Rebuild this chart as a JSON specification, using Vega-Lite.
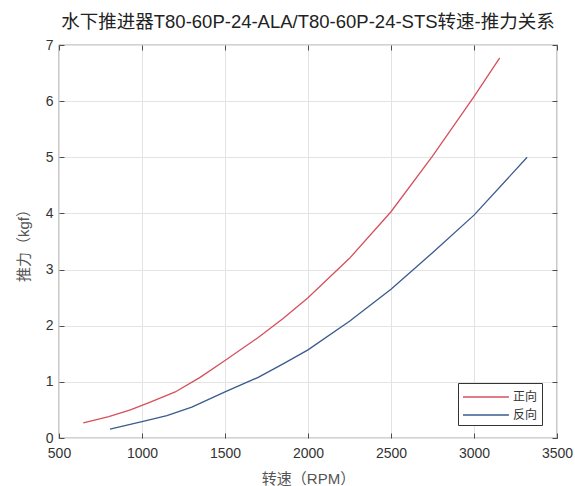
{
  "$schema": "https://vega.github.io/schema/vega-lite/v6.json",
  "autosize": {"type": "none"},
  "padding": {"left": 59, "top": 45, "right": 18, "bottom": 48},
  "width": 498,
  "height": 393,
  "background": "white",
  "title": {
    "text": "水下推进器T80-60P-24-ALA/T80-60P-24-STS转速-推力关系",
    "font": "Liberation Sans, Noto Sans CJK SC",
    "fontSize": 18.5,
    "fontWeight": "normal",
    "color": "#222222",
    "offset": 7,
    "anchor": "middle"
  },
  "data": {
    "values": [
      {"rpm": 646, "thrust": 0.27, "dir": "正向"},
      {"rpm": 800, "thrust": 0.38, "dir": "正向"},
      {"rpm": 930, "thrust": 0.5, "dir": "正向"},
      {"rpm": 1050, "thrust": 0.64, "dir": "正向"},
      {"rpm": 1200, "thrust": 0.82, "dir": "正向"},
      {"rpm": 1350, "thrust": 1.08, "dir": "正向"},
      {"rpm": 1500, "thrust": 1.38, "dir": "正向"},
      {"rpm": 1700, "thrust": 1.79, "dir": "正向"},
      {"rpm": 1850, "thrust": 2.13, "dir": "正向"},
      {"rpm": 2000, "thrust": 2.5, "dir": "正向"},
      {"rpm": 2250, "thrust": 3.2, "dir": "正向"},
      {"rpm": 2500, "thrust": 4.03, "dir": "正向"},
      {"rpm": 2750, "thrust": 5.02, "dir": "正向"},
      {"rpm": 3000, "thrust": 6.08, "dir": "正向"},
      {"rpm": 3155, "thrust": 6.77, "dir": "正向"},
      {"rpm": 807, "thrust": 0.16, "dir": "反向"},
      {"rpm": 1000, "thrust": 0.29, "dir": "反向"},
      {"rpm": 1150, "thrust": 0.4, "dir": "反向"},
      {"rpm": 1300, "thrust": 0.55, "dir": "反向"},
      {"rpm": 1500, "thrust": 0.82, "dir": "反向"},
      {"rpm": 1700, "thrust": 1.08, "dir": "反向"},
      {"rpm": 1850, "thrust": 1.32, "dir": "反向"},
      {"rpm": 2000, "thrust": 1.57, "dir": "反向"},
      {"rpm": 2250, "thrust": 2.08, "dir": "反向"},
      {"rpm": 2500, "thrust": 2.65, "dir": "反向"},
      {"rpm": 2750, "thrust": 3.3, "dir": "反向"},
      {"rpm": 3000, "thrust": 3.97, "dir": "反向"},
      {"rpm": 3320, "thrust": 5.0, "dir": "反向"}
    ]
  },
  "config": {
    "view": {"stroke": "#4d4d4d", "strokeWidth": 1.2},
    "axis": {
      "labelFont": "Liberation Sans",
      "labelFontSize": 14,
      "labelColor": "#333333",
      "titleFont": "Liberation Sans, Noto Sans CJK SC",
      "titleFontSize": 15,
      "titleFontWeight": "normal",
      "titleColor": "#555555",
      "gridColor": "#e3e3e3",
      "gridWidth": 1,
      "domain": false,
      "tickColor": "#4d4d4d",
      "tickSize": -5,
      "format": "d"
    }
  },
  "layer": [
    {
      "mark": {"type": "line", "strokeWidth": 1.3},
      "encoding": {
        "x": {
          "field": "rpm",
          "type": "quantitative",
          "scale": {"domain": [500, 3500], "nice": false, "zero": false},
          "axis": {"title": "转速（RPM）", "values": [500, 1000, 1500, 2000, 2500, 3000, 3500], "labelPadding": 13, "titlePadding": 11, "labelFlush": false}
        },
        "y": {
          "field": "thrust",
          "type": "quantitative",
          "scale": {"domain": [0, 7], "nice": false},
          "axis": {"title": "推力（kgf）", "values": [0, 1, 2, 3, 4, 5, 6, 7], "labelPadding": 11, "titlePadding": 14, "labelFlush": false}
        },
        "color": {
          "field": "dir",
          "type": "nominal",
          "sort": ["正向", "反向"],
          "scale": {"domain": ["正向", "反向"], "range": ["#d4505c", "#3a5b8e"]},
          "legend": {
            "title": null,
            "orient": "none",
            "legendX": 399,
            "legendY": 338,
            "symbolType": "M-1,0H4.1",
            "symbolSize": 324,
            "symbolStrokeWidth": 1.5,
            "labelFont": "Noto Sans CJK SC",
            "labelFontSize": 12,
            "labelColor": "#333333",
            "labelOffset": 31,
            "rowPadding": 2,
            "padding": 4,
            "strokeColor": "#333333",
            "fillColor": "white"
          }
        }
      }
    },
    {
      "mark": {"type": "line", "opacity": 0},
      "encoding": {
        "x": {
          "field": "rpm",
          "type": "quantitative",
          "axis": {"orient": "top", "title": null, "labels": false, "grid": false, "values": [500, 1000, 1500, 2000, 2500, 3000, 3500]}
        },
        "y": {
          "field": "thrust",
          "type": "quantitative",
          "axis": {"orient": "right", "title": null, "labels": false, "grid": false, "values": [0, 1, 2, 3, 4, 5, 6, 7]}
        },
        "detail": {"field": "dir"}
      }
    }
  ],
  "resolve": {"axis": {"x": "independent", "y": "independent"}}
}
